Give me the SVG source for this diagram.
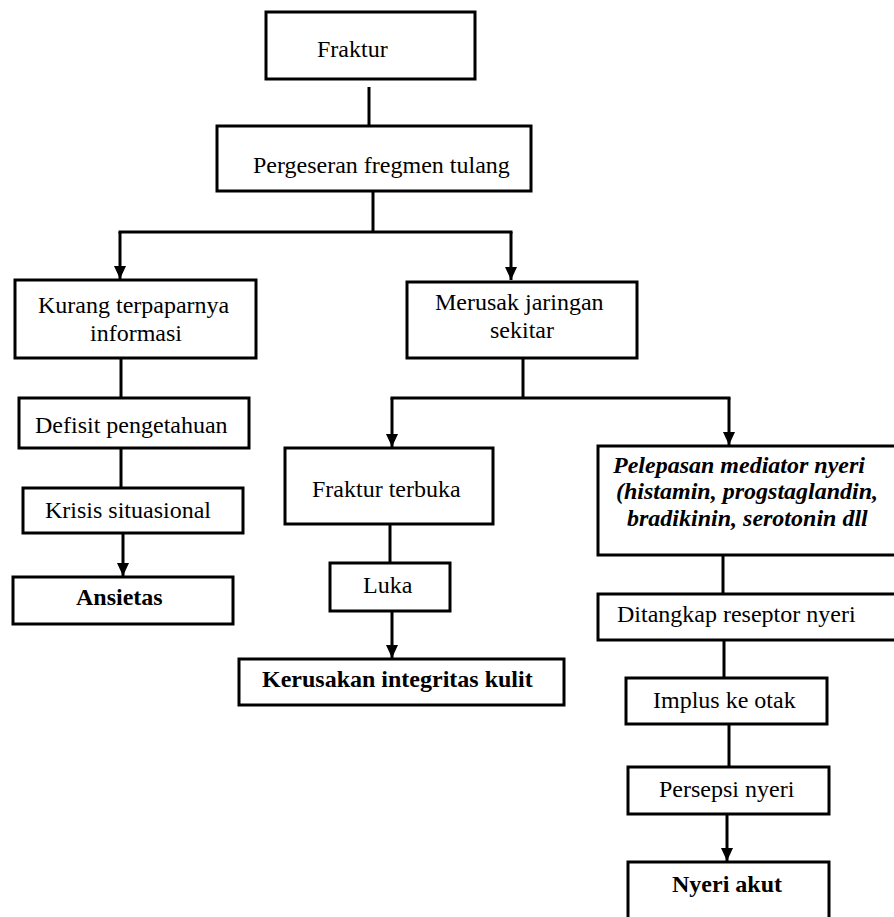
<svg xmlns="http://www.w3.org/2000/svg" width="894" height="917" viewBox="0 0 894 917">
<style>
.box{fill:#fff;stroke:#000;stroke-width:3}
.t{font-family:"Liberation Serif","Times New Roman",serif;font-size:24px;fill:#000}
.b{font-weight:bold}
.bi{font-weight:bold;font-style:italic}
.c{fill:none;stroke:#000;stroke-width:3}
</style>
<defs>
<marker id="arr" markerUnits="userSpaceOnUse" markerWidth="13" markerHeight="12" refX="13" refY="6" orient="auto" viewBox="0 0 13 12">
<path d="M0,0 L13,6 L0,12 Z" fill="#000"/>
</marker>
</defs>
<rect width="894" height="917" fill="#fff"/>
<g id="connectors">
<line class="c" x1="369" y1="87" x2="369" y2="126"/>
<line class="c" x1="373" y1="191" x2="373" y2="232"/>
<line class="c" x1="118.5" y1="232" x2="512.5" y2="232"/>
<line class="c" x1="120" y1="232" x2="120" y2="279" marker-end="url(#arr)"/>
<line class="c" x1="511" y1="232" x2="511" y2="280" marker-end="url(#arr)"/>
<line class="c" x1="121" y1="358" x2="121" y2="398"/>
<line class="c" x1="121" y1="448" x2="121" y2="488"/>
<line class="c" x1="123" y1="533" x2="123" y2="576" marker-end="url(#arr)"/>
<line class="c" x1="523" y1="358" x2="523" y2="398"/>
<line class="c" x1="390.5" y1="398" x2="730.5" y2="398"/>
<line class="c" x1="392" y1="398" x2="392" y2="447" marker-end="url(#arr)"/>
<line class="c" x1="729" y1="398" x2="729" y2="445" marker-end="url(#arr)"/>
<line class="c" x1="390" y1="524" x2="390" y2="563"/>
<line class="c" x1="392" y1="611" x2="392" y2="658" marker-end="url(#arr)"/>
<line class="c" x1="723" y1="553" x2="723" y2="594"/>
<line class="c" x1="724" y1="640" x2="724" y2="678"/>
<line class="c" x1="729" y1="724" x2="729" y2="767"/>
<line class="c" x1="727" y1="814" x2="727" y2="861" marker-end="url(#arr)"/>
</g>
<g id="n-fraktur"><rect class="box" x="266" y="12" width="209" height="67"/><text class="t" x="317" y="57">Fraktur</text></g>
<g id="n-pergeseran"><rect class="box" x="217" y="126" width="314" height="65"/><text class="t" x="253" y="173">Pergeseran fregmen tulang</text></g>
<g id="n-kurang"><rect class="box" x="15" y="280" width="241" height="78"/><text class="t" x="38" y="313">Kurang terpaparnya</text><text class="t" x="90" y="341">informasi</text></g>
<g id="n-merusak"><rect class="box" x="407" y="282" width="230" height="76"/><text class="t" x="435" y="310">Merusak jaringan</text><text class="t" x="490" y="338">sekitar</text></g>
<g id="n-defisit"><rect class="box" x="19" y="398" width="230" height="50"/><text class="t" x="35" y="433">Defisit pengetahuan</text></g>
<g id="n-krisis"><rect class="box" x="23" y="488" width="220" height="45"/><text class="t" x="45" y="518">Krisis situasional</text></g>
<g id="n-ansietas"><rect class="box" x="13" y="577" width="220" height="47"/><text class="t b" x="76" y="605">Ansietas</text></g>
<g id="n-terbuka"><rect class="box" x="285" y="448" width="208" height="76"/><text class="t" x="312" y="497">Fraktur terbuka</text></g>
<g id="n-luka"><rect class="box" x="330" y="563" width="120" height="48"/><text class="t" x="363" y="593">Luka</text></g>
<g id="n-kerusakan"><rect class="box" x="239" y="659" width="325" height="46"/><text class="t b" x="262" y="687">Kerusakan integritas kulit</text></g>
<g id="n-pelepasan"><rect class="box" x="598" y="446" width="302" height="109"/><text class="t bi" x="613" y="473">Pelepasan mediator nyeri</text><text class="t bi" x="616" y="499">(histamin, progstaglandin,</text><text class="t bi" x="627" y="526">bradikinin, serotonin dll</text></g>
<g id="n-ditangkap"><rect class="box" x="598" y="594" width="302" height="46"/><text class="t" x="617" y="622">Ditangkap reseptor nyeri</text></g>
<g id="n-implus"><rect class="box" x="626" y="678" width="201" height="46"/><text class="t" x="653" y="708">Implus ke otak</text></g>
<g id="n-persepsi"><rect class="box" x="628" y="767" width="201" height="47"/><text class="t" x="659" y="797">Persepsi nyeri</text></g>
<g id="n-nyeri"><rect class="box" x="628" y="862" width="201" height="70"/><text class="t b" x="672" y="892">Nyeri akut</text></g>
</svg>
